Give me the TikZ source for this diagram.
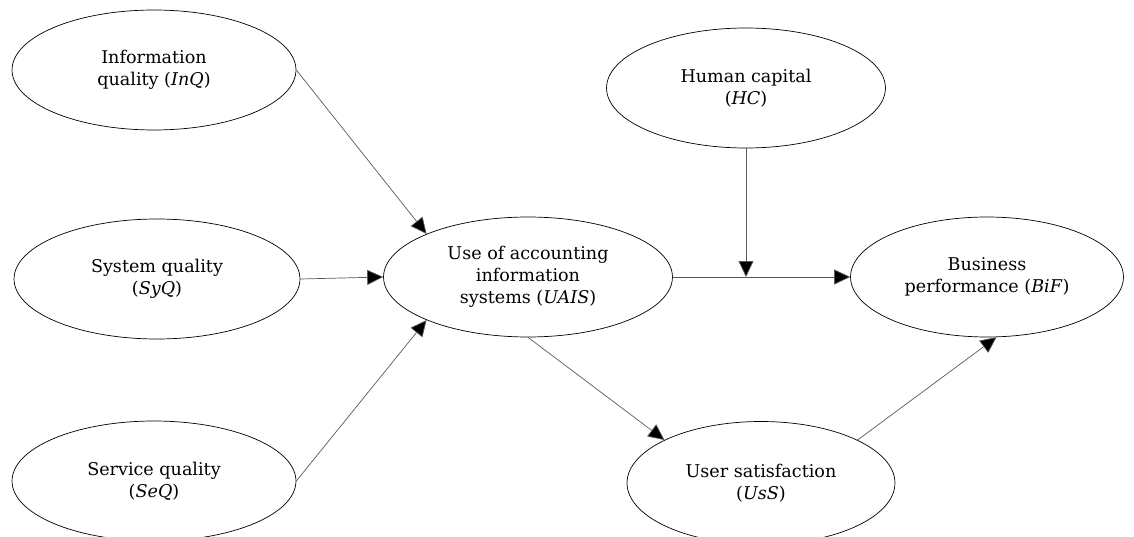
\documentclass[tikz,border=0pt]{standalone}
\usepackage{fontspec}
\setmainfont{DejaVu Serif}
\usetikzlibrary{arrows.meta,shapes,positioning}
\tikzset{
	construct/.style={
		ellipse,
		thin,
		draw=black,
		fill=white,
		inner sep=0pt,
		minimum width=5.68cm,
		minimum height=2.4cm,
		align=center,
		font=\fontsize{10}{12.5}\selectfont
	},
	arrow/.style={
		draw=black!65,
		thin,
		-{Triangle[length=3.2mm,width=3mm,fill=black]}
	},
}

\begin{document}
\begin{tikzpicture}[x=0.02cm,y=-0.02cm]
		\useasboundingbox (0,0) rectangle (1134,537);
		\node (inq) [construct] at (154,70) {Information\\quality (\textit{InQ})};
		\node (syq) [construct,minimum width=5.72cm] at (157,279) {System quality\\(\textit{SyQ})};
		\node (seq) [construct] at (154,481) {Service quality\\(\textit{SeQ})};
		\node (uais) [construct,minimum width=5.78cm] at (528,277) {Use of accounting\\information\\systems (\textit{UAIS})};
		\node (hc) [construct,minimum width=5.58cm] at (746,88) {Human capital\\(\textit{HC})};
		\node (bif) [construct,minimum width=5.46cm] at (987,277) {Business\\performance (\textit{BiF})};
		\node (uss) [construct,minimum width=5.36cm,minimum height=2.46cm] at (761,483) {User satisfaction\\(\textit{UsS})};
		\coordinate (moderation) at (hc.south |- uais.east);
		
		\draw [arrow] (inq.east) -- (uais.157);
		\draw [arrow] (syq.east) -- (uais.west);
		\draw [arrow] (seq.east) -- (uais.203);
		\draw [arrow] (uais.east) -- (bif.west);
		\draw [arrow] (hc.south) -- (moderation);
		\draw [arrow] (uais.south) -- (uss.156);
		\draw [arrow] (uss.24) -- (bif.-81);
		
		\end{tikzpicture}
\end{document}
